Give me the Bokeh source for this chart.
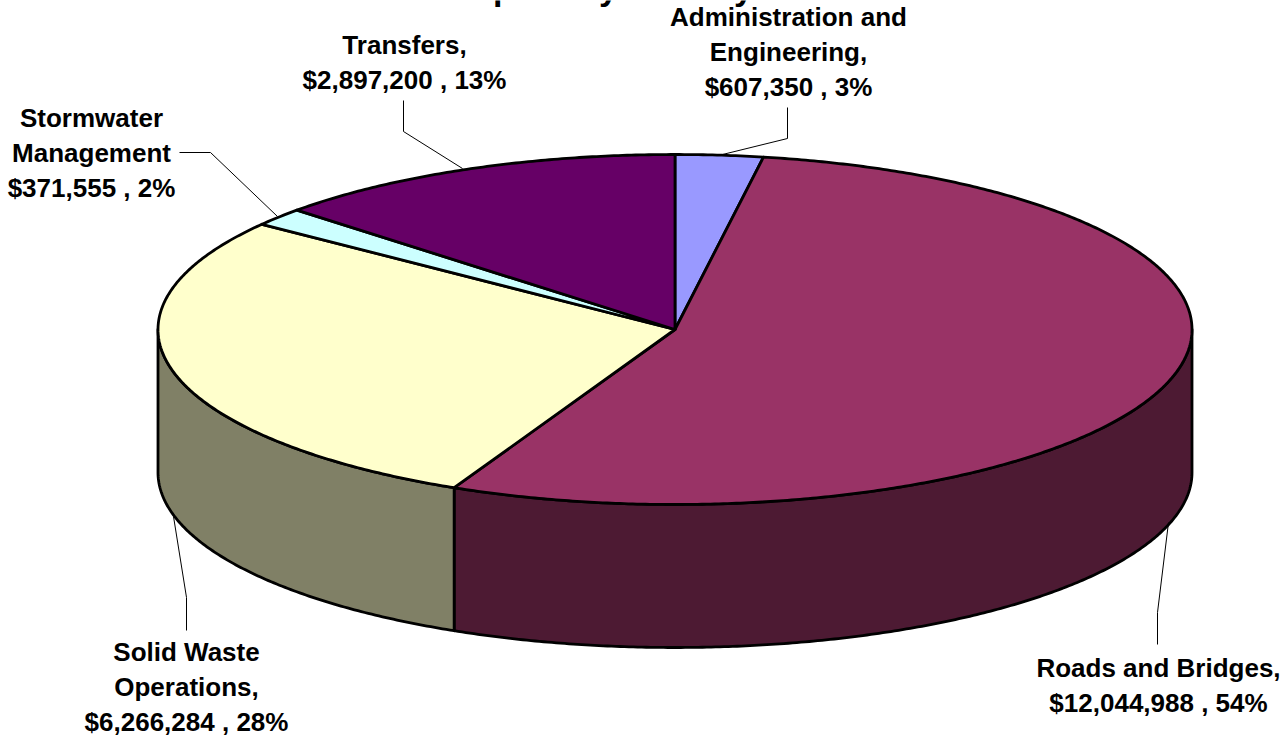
import numpy as np
from bokeh.plotting import figure
from bokeh.embed import file_html
from bokeh.resources import INLINE
from bokeh.core.properties import value

# data
categories = ["Administration and Engineering", "Roads and Bridges",
              "Solid Waste Operations", "Stormwater Management", "Transfers"]
amounts = [607350, 12044988, 6266284, 371555, 2897200]
top_colors = ["#9999FF", "#993366", "#FFFFCC", "#CCFFFF", "#660066"]
wall_colors = ["#4D4D80", "#4D1A33", "#808066", "#668080", "#330033"]
label_lines = [
    ["Administration and", "Engineering,", "$607,350 , 3%"],
    ["Roads and Bridges,", "$12,044,988 , 54%"],
    ["Solid Waste", "Operations,", "$6,266,284 , 28%"],
    ["Stormwater", "Management", "$371,555 , 2%"],
    ["Transfers,", "$2,897,200 , 13%"],
]
# only the descenders of the cropped title are legible in the picture
title_fragments = ["p", "y", "y"]

# layout
CX, CY, RX, RY, DEPTH = 674.5, 329, 517, 175, 143
FONT = value("Liberation Sans")
label_x = [788, 1158, 186, 91, 404]
label_base = [16, 667, 651, 117.5, 44]
line_gap = 35
leaders = [
    ([787, 787, 722], [107, 138, 154]),
    ([1157, 1157, 1168], [644, 612, 522]),
    ([186, 186, 173], [630, 597, 516]),
    ([179, 210, 277], [152, 152, 216]),
    ([403, 403, 462], [100, 131, 168]),
]
title_x = [503, 608, 743]

p = figure(width=1285, height=736, x_range=(0, 1285), y_range=(736, 0),
           output_backend="svg", toolbar_location=None, min_border=0,
           background_fill_color="white")
p.axis.visible = False
p.grid.visible = False
p.outline_line_color = None


def arc(a, b, dy=0.0):
    t = np.linspace(a, b, max(2, int(abs(b - a) * 120)))
    return CX + RX * np.sin(t), CY + dy - RY * np.cos(t)


edges = np.concatenate([[0], np.cumsum(amounts)]) / np.sum(amounts) * 2 * np.pi

# side walls (only the front half of the ellipse is visible)
for i in range(len(amounts)):
    a, b = max(edges[i], np.pi / 2), min(edges[i + 1], 3 * np.pi / 2)
    if a >= b:
        continue
    x1, y1 = arc(a, b)
    x2, y2 = arc(b, a, DEPTH)
    p.patch(np.r_[x1, x2], np.r_[y1, y2], fill_color=wall_colors[i],
            line_color="black", line_width=2.8, line_join="round")

# top faces
for i in range(len(amounts)):
    x, y = arc(edges[i], edges[i + 1])
    p.patch(np.r_[CX, x], np.r_[CY, y], fill_color=top_colors[i],
            line_color="black", line_width=2.8, line_join="round")

# leader lines
for xs, ys in leaders:
    p.line(xs, ys, line_color="black", line_width=1)

# labels
for x0, base, lines in zip(label_x, label_base, label_lines):
    for k, line in enumerate(lines):
        p.text([x0], [base + k * line_gap], text=[line], text_font=FONT,
               text_font_style="bold", text_font_size="26px",
               text_align="center", text_baseline="alphabetic", text_color="black")

# cropped title fragments
p.text(title_x, [-13, -13, -13], text=title_fragments, text_font=FONT,
       text_font_style="bold", text_font_size="34px",
       text_align="center", text_baseline="alphabetic", text_color="black")

open("out.html", "w").write(file_html(p, INLINE))
